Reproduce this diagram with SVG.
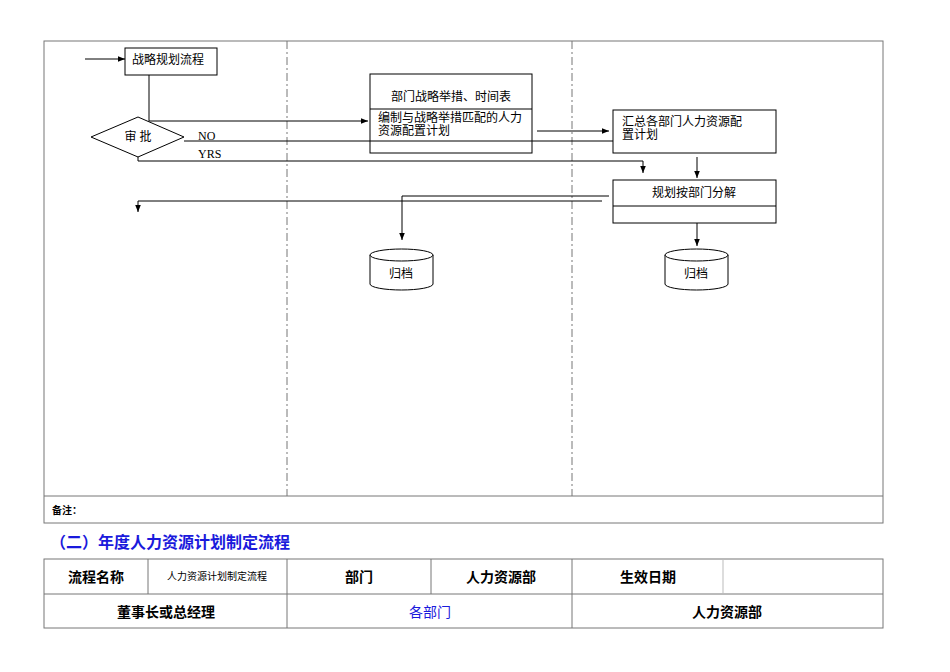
<svg xmlns="http://www.w3.org/2000/svg" width="950" height="672" viewBox="0 0 950 672">
<style>
.b{fill:#fff;stroke:#000;stroke-width:1}
.l{fill:none;stroke:#000;stroke-width:1}
.g{fill:none;stroke:#777;stroke-width:1}
.t{font-family:"Liberation Serif","Noto Sans CJK SC",serif;font-size:12px;fill:#000}
.h{font-family:"Liberation Sans","Noto Sans CJK SC",sans-serif;font-size:14px;font-weight:bold;fill:#000;text-anchor:middle}
.s{font-family:"Liberation Sans","Noto Sans CJK SC",sans-serif;font-size:10px;fill:#000;text-anchor:middle}
</style>
<defs><marker id="a" viewBox="0 0 10 10" refX="10" refY="5" markerWidth="7" markerHeight="7" orient="auto"><path d="M0,1L10,5L0,9z" fill="#000"/></marker></defs>
<rect width="950" height="672" fill="#fff"/>
<g id="frame">
<rect x="44" y="41" width="839" height="482" class="g"/>
<line x1="44" y1="496" x2="883" y2="496" class="g"/>
<line x1="287" y1="41" x2="287" y2="496" stroke="#777" stroke-dasharray="8,3,2,3"/>
<line x1="572" y1="41" x2="572" y2="496" stroke="#777" stroke-dasharray="8,3,2,3"/>
<text x="52" y="514" font-family="Liberation Sans,Noto Sans CJK SC,sans-serif" font-size="10" font-weight="bold">备注：</text>
</g>
<g id="connectors">
<line x1="85" y1="59" x2="125" y2="59" class="l" marker-end="url(#a)"/>
<polyline points="149,75 149,121 368,121" class="l" marker-end="url(#a)"/>
<polyline points="184,141 643,141 643,126" class="l" marker-end="url(#a)"/>
<polyline points="138,150 138,161 643,161 643,173" class="l" marker-end="url(#a)"/>
<line x1="451" y1="94" x2="451" y2="106" class="l" marker-end="url(#a)"/>
<line x1="537" y1="131" x2="609" y2="131" class="l" marker-end="url(#a)"/>
<line x1="697" y1="157" x2="697" y2="178" class="l" marker-end="url(#a)"/>
<polyline points="609,196 402,196 402,240" class="l" marker-end="url(#a)"/>
<polyline points="602,201 138,201 138,212" class="l" marker-end="url(#a)"/>
<line x1="697" y1="223" x2="697" y2="246" class="l" marker-end="url(#a)"/>
<text x="198" y="140" class="t" font-size="10">NO</text>
<text x="198" y="158" class="t" font-size="10">YRS</text>
</g>
<g id="n1"><rect x="125" y="48" width="92" height="27" class="b"/><text x="132" y="64" class="t">战略规划流程</text></g>
<g id="n2"><polygon points="91,137 138,117 184,137 138,157" class="b"/><text x="138" y="141" class="t" text-anchor="middle">审 批</text></g>
<g id="n3"><rect x="370" y="74" width="162" height="79" class="b"/><line x1="370" y1="109" x2="532" y2="109" class="l"/><line x1="370" y1="141" x2="532" y2="141" class="l"/>
<text x="451" y="101" class="t" font-size="13" text-anchor="middle">部门战略举措、时间表</text>
<text x="378" y="122" class="t" font-size="11">编制与战略举措匹配的人力</text><text x="378" y="135" class="t" font-size="11">资源配置计划</text></g>
<g id="n4"><rect x="613" y="110" width="163" height="43" class="b"/><text x="622" y="126" class="t" font-size="13">汇总各部门人力资源配</text><text x="622" y="139" class="t" font-size="13">置计划</text></g>
<g id="n5"><rect x="613" y="180" width="163" height="43" class="b"/><line x1="613" y1="206" x2="776" y2="206" class="l"/><text x="694" y="197" class="t" font-size="13" text-anchor="middle">规划按部门分解</text></g>
<g id="n6"><path d="M370,255 L370,284 A31.5,6 0 0 0 433,284 L433,255" class="b"/><ellipse cx="401.5" cy="255" rx="31.5" ry="6" class="b"/><text x="401" y="278" class="t" text-anchor="middle">归档</text></g>
<g id="n7"><path d="M665,255 L665,284 A31.5,6 0 0 0 728,284 L728,255" class="b"/><ellipse cx="696.5" cy="255" rx="31.5" ry="6" class="b"/><text x="696" y="278" class="t" text-anchor="middle">归档</text></g>
<g id="title"><text x="50" y="548" font-family="Liberation Sans,Noto Sans CJK SC,sans-serif" font-size="16" font-weight="bold" fill="#1a1adc">（二）年度人力资源计划制定流程</text></g>
<g id="table">
<rect x="44" y="559" width="839" height="69" class="g"/>
<line x1="44" y1="594" x2="883" y2="594" class="g"/>
<line x1="148" y1="559" x2="148" y2="594" class="g"/><line x1="287" y1="559" x2="287" y2="628" class="g"/>
<line x1="431" y1="559" x2="431" y2="594" class="g"/><line x1="572" y1="559" x2="572" y2="628" class="g"/>
<line x1="723" y1="559" x2="723" y2="594" stroke="#bbb"/>
<text x="96" y="582" class="h">流程名称</text>
<text x="217" y="580" class="s">人力资源计划制定流程</text>
<text x="359" y="582" class="h">部门</text>
<text x="501" y="582" class="h">人力资源部</text>
<text x="648" y="582" class="h">生效日期</text>
<text x="166" y="617" class="h">董事长或总经理</text>
<text x="430" y="617" class="h" style="fill:#1a1adc;font-weight:normal">各部门</text>
<text x="727" y="617" class="h">人力资源部</text>
</g>
</svg>
